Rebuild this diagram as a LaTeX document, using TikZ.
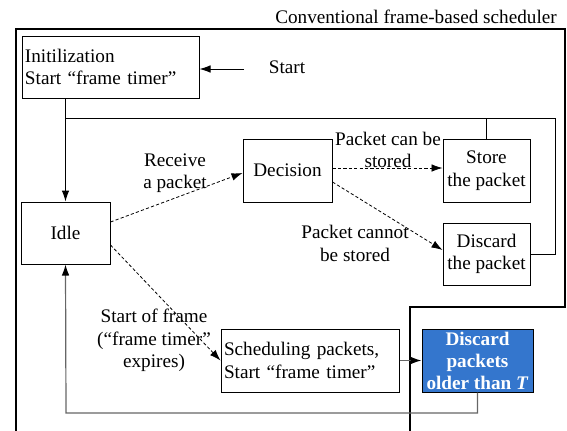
\documentclass[tikz,border=0pt]{standalone}
\usepackage{fontspec}
\setmainfont{Liberation Serif}
\usetikzlibrary{arrows.meta,calc}

\definecolor{oldblue}{RGB}{52,118,205}

\begin{document}
\begin{tikzpicture}[x=0.5pt, y=-0.5pt,
		>={Latex[length=5.5pt,width=3.8pt]},
		font=\fontsize{9.6}{11.3}\selectfont,
		box/.style = {draw, line width=0.5pt, inner sep=1.5pt, align=center},
		note/.style = {align=center, inner sep=0pt},
		flow/.style = {->, line width=0.5pt},
		maybe/.style = {->, line width=0.4pt, dash pattern=on 1.6pt off 1.1pt},
		back/.style = {-{Latex[length=5.5pt,width=3.8pt,black]}, line width=0.6pt, draw=black!60},
		border/.style = {line width=1.1pt}
	]
	\useasboundingbox (0,0) rectangle (567,430);
	% scheduler border
	\node[note] (title) at (416,17) {Conventional frame-based scheduler};
	\draw[border] (16,432) -- (16,29) -- (565,29) -- (565,307) -- (410,307) -- (410,432);

	% states
	\node[box, text width=85.5pt, align=left, minimum height=31pt] (init) at (110.5,67)
		{Initilization\\Start “frame timer”};
	\node[note] (start) at (287,67) {Start};
	\coordinate (startend) at (244,69);
	\node[box, minimum width=44.5pt, minimum height=31pt] (idle) at (65.5,233) {Idle};
	\node[box, minimum width=44.5pt, minimum height=31.5pt] (decision) at (287.5,170.5) {Decision};
	\node[box, minimum width=43.5pt, minimum height=31.5pt] (store) at (486.5,170.5) {Store\\the packet};
	\node[box, minimum width=43.5pt, minimum height=31pt] (discard) at (486.5,254) {Discard\\the packet};
	\node[box, text width=86pt, align=left, minimum height=31.5pt] (sched) at (310,360.5)
		{Scheduling packets,\\Start “frame timer”};
	\node[box, fill=oldblue, text=white, inner ysep=0pt, font=\fontsize{9.6}{11}\selectfont\bfseries,
		minimum width=55.5pt, minimum height=31.5pt] (older) at (477.5,360.5)
		{Discard\\packets\\older than \textit{T}};

	% event labels
	\node[note] (recv) at (175,173) {Receive\\a packet};
	\node[note] (canstore) at (388,150) {Packet can be\\stored};
	\node[note] (cannot) at (355,243.5) {Packet cannot\\be stored};
	\node[note] (sof) at (154,340.5) {Start of frame\\(“frame timer”\\expires)};

	% transitions
	\coordinate (loop) at (555,118);
	\coordinate (retline) at (66,413);
	\draw[flow] (startend) -- (startend -| init.east);
	\draw[flow] (idle |- init.south) -- (idle.north);
	\draw[line width=0.5pt] (store.north) -- (store.north |- loop);
	\draw[line width=0.5pt] (discard.east) -| (loop) -- (idle |- loop);
	\draw[maybe] ($(idle.east)+(0,-11)$) -- ($(decision.west)+(0,2.5)$);
	\draw[maybe] ($(decision.east)+(0,-2.5)$) -- ($(store.west)+(0,-2.5)$);
	\draw[maybe] ($(decision.east)+(0,11.5)$) -- ($(discard.west)+(0,-4)$);
	\draw[maybe] ($(idle.east)+(0,12)$) -- (sched.west);
	\draw[back] (sched.east) -- (older.west);
	\draw[back] (older.south) -- (older.south |- retline) -- (retline) -- (idle.south);
\end{tikzpicture}
\end{document}
